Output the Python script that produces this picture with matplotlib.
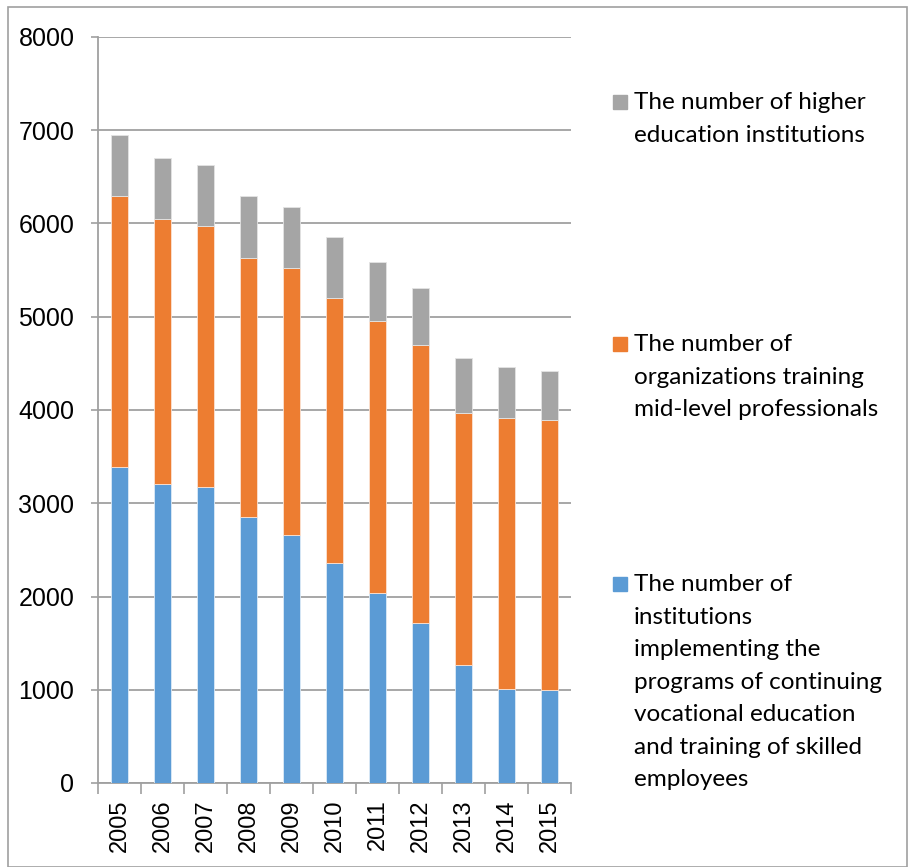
import matplotlib.pyplot as plt
import numpy as np
from matplotlib.patches import Rectangle

# data
years = ['2005', '2006', '2007', '2008', '2009', '2010', '2011', '2012', '2013', '2014', '2015']
skilled = [3390, 3210, 3175, 2855, 2655, 2355, 2035, 1720, 1270, 1005, 1000]
mid_level = [2900, 2835, 2795, 2778, 2864, 2846, 2921, 2972, 2700, 2910, 2896]
higher = [654, 661, 658, 657, 661, 657, 636, 611, 583, 543, 525]

labels = ['The number of higher\neducation institutions',
          'The number of\norganizations training\nmid-level professionals',
          'The number of\ninstitutions\nimplementing the\nprograms of continuing\nvocational education\nand training of skilled\nemployees']

c_blue = '#5B9BD5'
c_orange = '#ED7D31'
c_gray = '#A5A5A5'
W, H = 908, 867

fig = plt.figure(figsize=(W / 100, H / 100), dpi=100)
ax = fig.add_axes([98 / W, 1 - 783 / H, (571 - 98) / W, (783 - 37) / H])

x = np.arange(len(years))
b1 = np.array(skilled)
b2 = b1 + np.array(mid_level)
ax.bar(x, skilled, width=0.4, color=c_blue, edgecolor='#DDEBF7', linewidth=0.6, zorder=3)
ax.bar(x, mid_level, width=0.4, bottom=b1, color=c_orange, edgecolor='#FBE3D3', linewidth=0.6, zorder=3)
ax.bar(x, higher, width=0.4, bottom=b2, color=c_gray, edgecolor='#E4E4E4', linewidth=0.6, zorder=3)

ax.set_xlim(-0.5, len(years) - 0.5)
ax.set_ylim(0, 8000)
ax.set_yticks(np.arange(0, 8001, 1000))
ax.yaxis.grid(True, color='#A0A0A0', linewidth=1.3, zorder=0)

ax.set_xticks(x)
ax.set_xticklabels(years, rotation=90, fontsize=17, family='Liberation Sans')
ax.set_xticks(np.arange(-0.5, len(years), 1), minor=True)
ax.tick_params(axis='x', which='major', length=0, pad=12)
ax.tick_params(axis='x', which='minor', length=8, color='#A0A0A0', width=1.2)
ax.tick_params(axis='y', length=5, color='#A0A0A0', width=1.2, labelsize=18, pad=12)
for t in ax.get_yticklabels():
    t.set_family('Liberation Sans')

for s in ['top', 'right']:
    ax.spines[s].set_visible(False)
ax.spines['left'].set_color('#A0A0A0')
ax.spines['bottom'].set_color('#A0A0A0')
ax.spines['left'].set_linewidth(1.3)
ax.spines['bottom'].set_linewidth(1.3)

# legend drawn by hand to match the layout
leg = [(c_gray, 95, labels[0]), (c_orange, 337, labels[1]), (c_blue, 577, labels[2])]
for col, ytop, txt in leg:
    fig.patches.append(Rectangle((613 / W, 1 - (ytop + 14) / H), 14 / W, 14 / H,
                                 transform=fig.transFigure, color=col))
    fig.text(634 / W, 1 - (ytop - 3) / H, txt, fontsize=17.5, family='Lato',
             va='top', ha='left', linespacing=1.68)

# outer border
fig.patches.append(Rectangle((8 / W, 0), (W - 9) / W, 1 - 7 / H, transform=fig.transFigure,
                             fill=False, edgecolor='#A0A0A0', linewidth=1.2))

fig.savefig('out.png', dpi=100)
